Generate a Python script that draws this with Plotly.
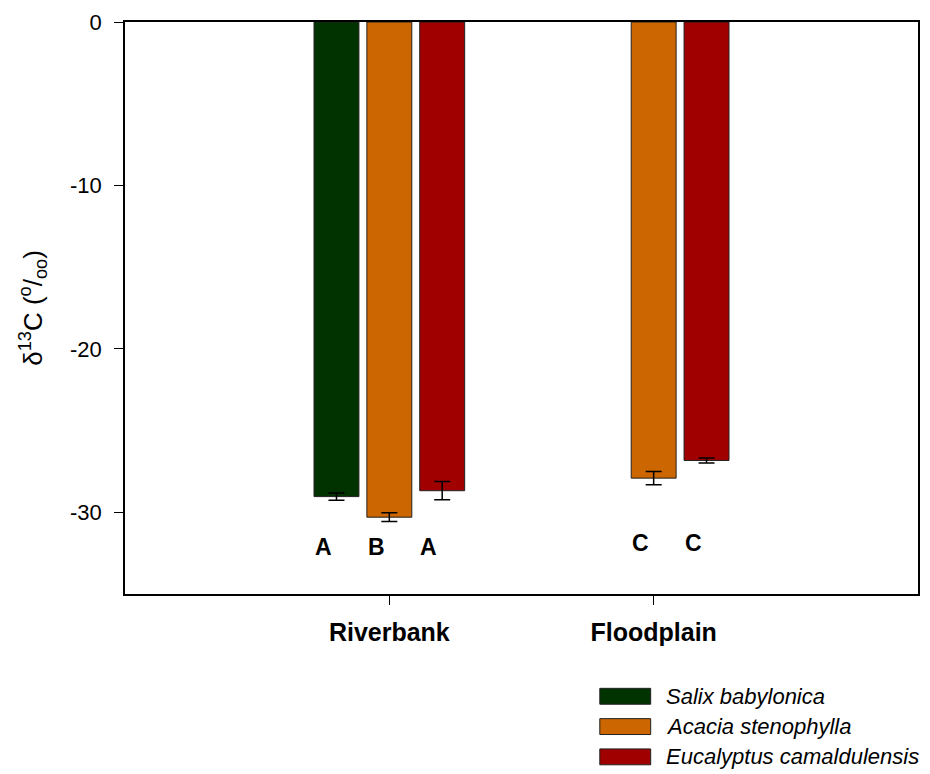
import plotly.graph_objects as go

sites = ["Riverbank", "Floodplain"]
species = ["Salix babylonica", "Acacia stenophylla", "Eucalyptus camaldulensis"]
colors = ["#003300", "#CC6600", "#A00000"]
means = {
    "Salix babylonica": [-29.04, None],
    "Acacia stenophylla": [-30.30, -27.91],
    "Eucalyptus camaldulensis": [-28.68, -26.83],
}
errors = {
    "Salix babylonica": [0.22, None],
    "Acacia stenophylla": [0.27, 0.41],
    "Eucalyptus camaldulensis": [0.56, 0.15],
}
letters = {
    "Salix babylonica": ["A", None],
    "Acacia stenophylla": ["B", "C"],
    "Eucalyptus camaldulensis": ["A", "C"],
}
letter_y = [-32.1, -31.85]
y_ticks = [0, -10, -20, -30]
y_ticklabels = ["0", "-10", "-20", "-30"]

FONT = "Liberation Sans, Arial, sans-serif"
fig = go.Figure()
for sp, col in zip(species, colors):
    fig.add_trace(go.Bar(
        x=sites, y=means[sp], name=sp,
        marker=dict(color=col, line=dict(color="#222222", width=1)),
        error_y=dict(type="data", array=errors[sp], color="black", thickness=1.5, width=8),
        showlegend=False,
    ))

# significance letters
offsets = [-0.2, 0.0, 0.2]
for j, sp in enumerate(species):
    for i, site in enumerate(sites):
        lt = letters[sp][i]
        if lt:
            fig.add_annotation(x=i + offsets[j] - 0.05, y=letter_y[i], text="<b>%s</b>" % lt,
                               showarrow=False, xref="x", yref="y",
                               font=dict(family=FONT, size=23, color="black"))

# custom legend
for k, (sp, col) in enumerate(zip(species, colors)):
    y0 = 689 + k * 30.5
    fig.add_shape(type="rect", xref="paper", yref="paper",
                  x0=(601 - 125) / 795, x1=(652 - 125) / 795,
                  y0=(594 - (y0 + 16)) / 576, y1=(594 - y0) / 576,
                  fillcolor=col, line=dict(color="#222222", width=1))
    fig.add_annotation(xref="paper", yref="paper", x=(665 - 125) / 795, y=(594 - (y0 + 8)) / 576,
                       text="<i>%s</i>" % sp, showarrow=False, xanchor="left", yanchor="middle",
                       font=dict(family=FONT, size=22, color="black"))

fig.update_layout(
    width=930, height=774,
    margin=dict(l=125, r=10, t=18, b=180),
    plot_bgcolor="white", paper_bgcolor="white",
    barmode="group", bargap=0.4, bargroupgap=0.15,
    font=dict(family=FONT, color="black"),
    xaxis=dict(type="category", range=[-1, 2], showline=True, linecolor="black", linewidth=1.5,
               mirror=True, ticks="outside", ticklen=9, tickcolor="black",
               tickfont=dict(size=25, family=FONT), showgrid=False, ticklabelstandoff=6,
               ticktext=["<b>Riverbank</b>", "<b>Floodplain</b>"], tickvals=sites),
    yaxis=dict(range=[-35, 0], showline=True, linecolor="black", linewidth=1.5, mirror=True,
               ticks="outside", ticklen=9, tickcolor="black", tickvals=y_ticks,
               ticktext=y_ticklabels, ticklabelstandoff=8,
               tickfont=dict(size=22, family=FONT), showgrid=False, zeroline=False,
               title=dict(text="δ<sup>13</sup>C (<sup>o</sup>/<sub>oo</sub>)",
                          font=dict(size=26, family=FONT), standoff=20)),
)
fig.write_html("out.html")
